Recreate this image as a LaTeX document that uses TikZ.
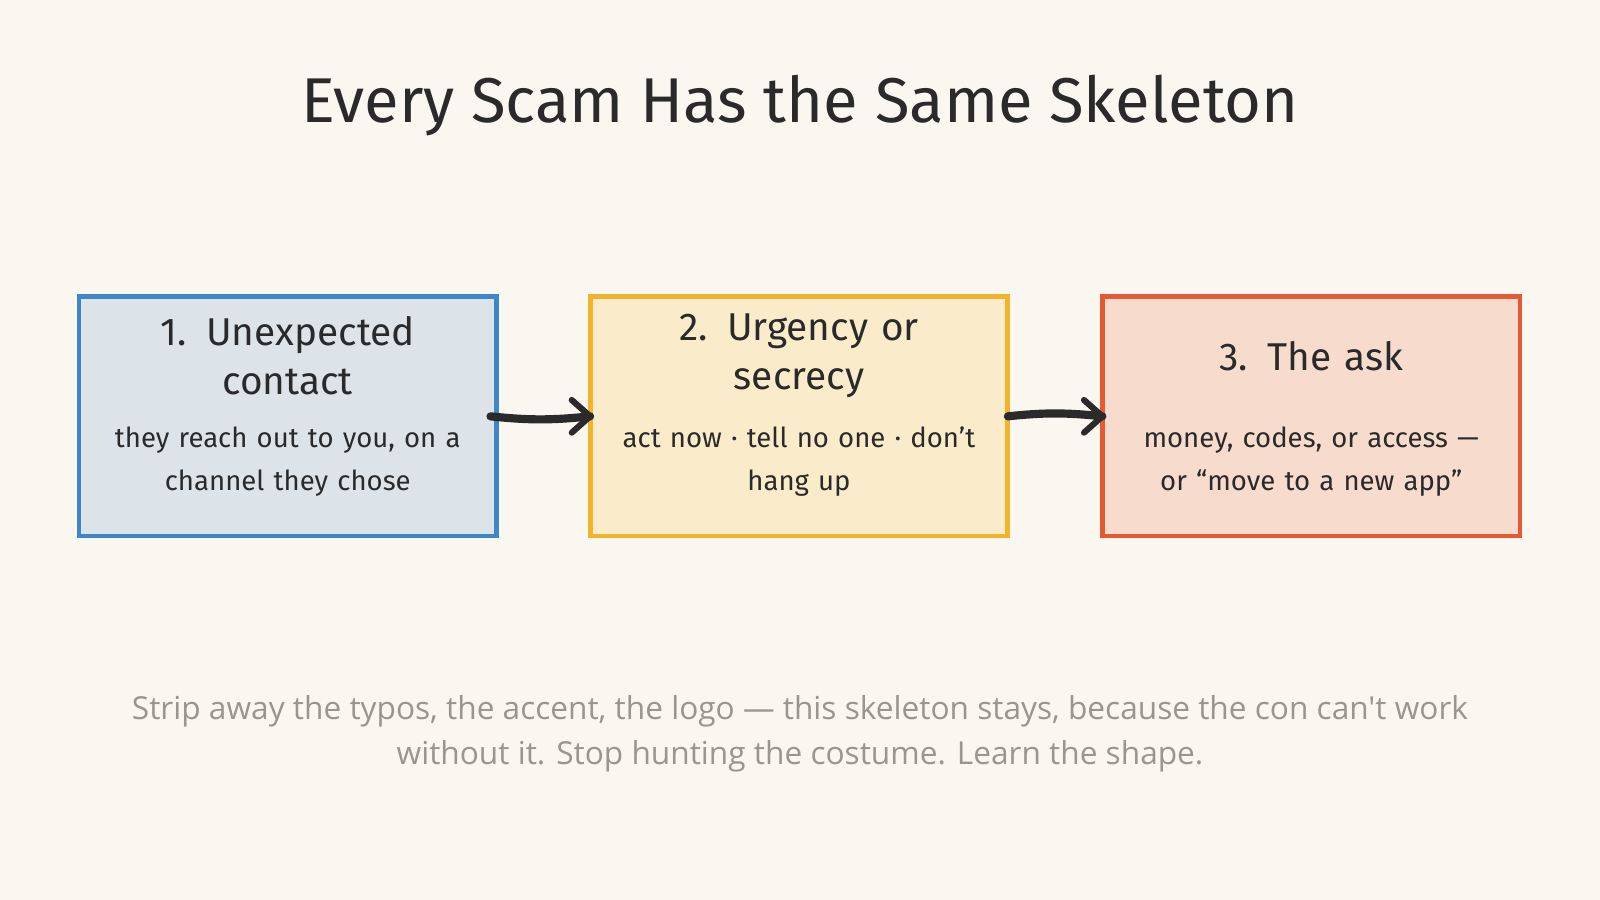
\documentclass[tikz,border=0pt]{standalone}
\usepackage{fontspec}
\setmainfont{Fira Sans}
\newfontfamily\bodyfont{Open Sans}
\usetikzlibrary{arrows.meta}
\definecolor{bg}{HTML}{FAF7F0}
\definecolor{ink}{HTML}{2A2A2A}
\definecolor{grey}{HTML}{9A968C}
\definecolor{bfill}{HTML}{DCE4EA}
\definecolor{bline}{HTML}{3D87C8}
\definecolor{yfill}{HTML}{FAEBCB}
\definecolor{yline}{HTML}{F2B42A}
\definecolor{rfill}{HTML}{F7DBCD}
\definecolor{rline}{HTML}{E55A33}
\tikzset{
 card/.style={line width=2.2pt, minimum width=204.5pt, minimum height=117.5pt, inner sep=0pt},
 ttl/.style={font=\fontsize{19}{24}\selectfont, text=ink, align=center, text width=180pt},
 sub/.style={font=\fontsize{13.5}{21}\selectfont, text=ink, align=center, text width=180pt},
 flow/.style={draw=ink, line width=4pt, line cap=round},
 barb/.style={draw=ink, line width=3pt, line cap=round, line join=round}
}
\begin{document}
\begin{tikzpicture}[x=0.5pt,y=-0.5pt]
\fill[bg] (0,0) rectangle (1568,882);
\useasboundingbox (0,0) rectangle (1568,882);
\node[font=\fontsize{31}{36}\selectfont, text=ink] (title) at (784,103) {Every Scam Has the Same Skeleton};
\node[card, fill=bfill, draw=bline] (b1) at (282,408) {};
\node[card, fill=yfill, draw=yline] (b2) at (783,408) {};
\node[card, fill=rfill, draw=rline] (b3) at (1285,408) {};
\node[ttl] (t1) at (282,349) {1. Unexpected\\contact};
\node[sub] (s1) at (282,452) {they reach out to you, on a\\channel they chose};
\node[ttl] (t2) at (783,349) {2. Urgency or\\secrecy};
\node[sub] (s2) at (783,452) {act now · tell no one · don't\\hang up};
\node[ttl] (t3) at (1285,349) {3. The ask};
\node[sub] (s3) at (1285,452) {money, codes, or access —\\or “move to a new app”};
\draw[flow] ([xshift=-4pt]b1.east) to[bend right=6] ([xshift=1pt]b2.west);
\draw[barb] ([xshift=-8pt,yshift=8pt]b2.west) -- ([xshift=1pt]b2.west) -- ([xshift=-8pt,yshift=-8pt]b2.west);
\draw[flow] ([xshift=-1pt]b2.east) to[bend left=6] ([xshift=1pt]b3.west);
\draw[barb] ([xshift=-8pt,yshift=8pt]b3.west) -- ([xshift=1pt]b3.west) -- ([xshift=-8pt,yshift=-8pt]b3.west);
\node[font=\bodyfont\fontsize{15.5}{22}\selectfont, text=grey, align=center] (foot) at (784,719) {Strip away the typos, the accent, the logo — this skeleton stays, because the con can't work\\without it. Stop hunting the costume. Learn the shape.};
\end{tikzpicture}
\end{document}
